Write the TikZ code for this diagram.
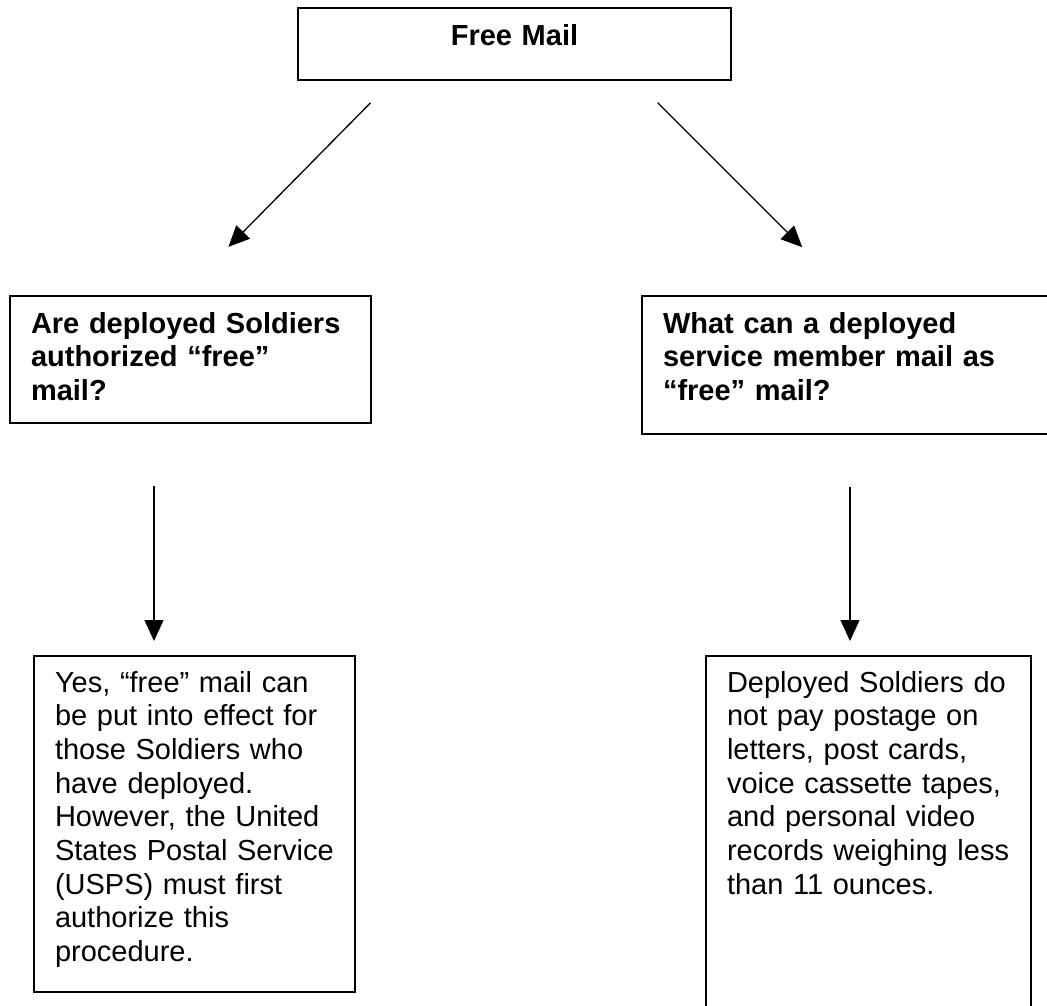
\documentclass[tikz,border=0pt]{standalone}
\usepackage{fontspec}
\setmainfont{Liberation Sans}
\usetikzlibrary{arrows.meta}

\tikzset{
  headbox/.style={draw,line width=1.8pt,anchor=north west,inner xsep=21pt,inner ysep=0pt,outer sep=0pt,
    align=center,font=\fontsize{29}{33.5}\selectfont\bfseries},
  askbox/.style={draw,line width=1.8pt,anchor=north west,inner xsep=21pt,inner ysep=0pt,outer sep=0pt,
    align=left,font=\fontsize{29}{33.5}\selectfont\bfseries,text height=37pt},
  ansbox/.style={draw,line width=1.2pt,anchor=north west,inner xsep=21pt,inner ysep=0pt,outer sep=0pt,
    align=left,font=\fontsize{29}{33.7}\selectfont,text height=36pt},
  arr/.style={-{Triangle[length=21pt,width=19pt]},line width=1.3pt}
}

\begin{document}
\begin{tikzpicture}[x=1pt,y=-1pt]
                      \useasboundingbox (0,0) rectangle (1047,1005);
                      \node[headbox,text width=391pt,text height=37pt,text depth=35pt](free)at(298,8){Free Mail};
                      \node[askbox,text width=319pt,text depth=90pt](askleft)at(10,296){Are deployed Soldiers\\authorized “free”\\mail?};
                      \node[askbox,text width=368pt,text depth=101pt](askright)at(642,296){What can a deployed\\service member mail as\\“free” mail?};
                      \node[ansbox,text width=279pt,text depth=300pt](ansleft)at(34,656){Yes, “free” mail can\\be put into effect for\\those Soldiers who\\have deployed.\\However, the United\\States Postal Service\\(USPS) must first\\authorize this\\procedure.};
                      \node[ansbox,text width=283pt,text depth=320pt](ansright)at(706,656){Deployed Soldiers do\\not pay postage on\\letters, post cards,\\voice cassette tapes,\\and personal video\\records weighing less\\than 11 ounces.};
                      \draw[arr,shorten <=32pt,shorten >=69pt]([xshift=95pt]free.south west)--([xshift=170pt]askleft.north west);
                      \draw[arr,shorten <=32pt,shorten >=69pt]([xshift=337pt]free.south west)--([xshift=209pt]askright.north west);
                      \coordinate(downleft)at([xshift=144pt]askleft.south west);
                      \coordinate(downright)at([xshift=208pt]askright.south west);
                      \draw[arr,shorten <=63pt,shorten >=15pt](downleft)--(downleft |- ansleft.north);
                      \draw[arr,shorten <=53pt,shorten >=15pt](downright)--(downright |- ansright.north);
                  \end{tikzpicture}
\end{document}
